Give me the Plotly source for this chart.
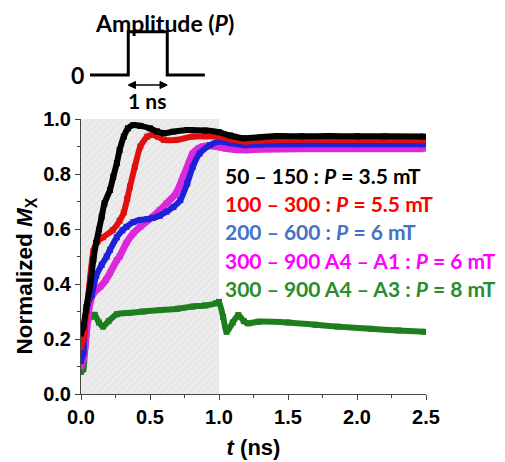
import plotly.graph_objects as go

# ---------------- data ----------------
black_t = [0.0, 0.017, 0.04, 0.065, 0.09, 0.11, 0.13, 0.15, 0.17, 0.21, 0.234, 0.26, 0.28, 0.31, 0.34,
           0.38, 0.43, 0.5, 0.55, 0.6, 0.67, 0.77, 0.9, 1.0, 1.08, 1.18, 1.3, 1.42, 1.6, 1.8, 2.0, 2.2, 2.48]
black_y = [0.22, 0.245, 0.317, 0.39, 0.49, 0.55, 0.597, 0.645, 0.693, 0.742, 0.79, 0.84, 0.887, 0.936, 0.966,
           0.978, 0.975, 0.966, 0.955, 0.948, 0.954, 0.96, 0.958, 0.952, 0.94, 0.93, 0.934, 0.938, 0.937, 0.938,
           0.937, 0.937, 0.936]

red_t = [0.0, 0.017, 0.04, 0.065, 0.09, 0.12, 0.16, 0.23, 0.28, 0.31, 0.335, 0.355, 0.39, 0.43, 0.48, 0.52,
         0.56, 0.6, 0.69, 0.81, 0.9, 1.0, 1.1, 1.19, 1.3, 1.5, 1.8, 2.1, 2.48]
red_y = [0.17, 0.2, 0.3, 0.42, 0.52, 0.555, 0.57, 0.596, 0.63, 0.66, 0.71, 0.754, 0.826, 0.9, 0.936, 0.942,
         0.935, 0.924, 0.924, 0.936, 0.937, 0.935, 0.925, 0.918, 0.922, 0.924, 0.924, 0.924, 0.923]

blue_t = [0.0, 0.017, 0.03, 0.05, 0.077, 0.11, 0.15, 0.186, 0.21, 0.26, 0.3, 0.33, 0.38, 0.43, 0.48, 0.52,
          0.57, 0.62, 0.67, 0.72, 0.77, 0.81, 0.86, 0.935, 1.0, 1.08, 1.19, 1.3, 1.6, 2.0, 2.48]
blue_y = [0.12, 0.15, 0.27, 0.33, 0.36, 0.43, 0.47, 0.5, 0.524, 0.57, 0.595, 0.608, 0.625, 0.633, 0.636, 0.64,
          0.648, 0.663, 0.68, 0.705, 0.766, 0.826, 0.875, 0.905, 0.918, 0.912, 0.905, 0.907, 0.908, 0.908, 0.908]

magenta_t = [0.0, 0.017, 0.03, 0.053, 0.07, 0.09, 0.14, 0.18, 0.21, 0.26, 0.28, 0.33, 0.38, 0.43, 0.52, 0.57,
             0.62, 0.69, 0.74, 0.78, 0.81, 0.85, 0.885, 0.93, 0.98, 1.05, 1.19, 1.3, 1.6, 2.0, 2.48]
magenta_y = [0.1, 0.13, 0.172, 0.29, 0.34, 0.366, 0.39, 0.415, 0.44, 0.487, 0.5, 0.55, 0.585, 0.608, 0.645,
             0.668, 0.693, 0.73, 0.79, 0.839, 0.875, 0.893, 0.9, 0.903, 0.9, 0.893, 0.887, 0.89, 0.892, 0.892,
             0.892]

green_t = [0.0, 0.017, 0.03, 0.04, 0.053, 0.07, 0.1, 0.13, 0.16, 0.2, 0.26, 0.35, 0.45, 0.57, 0.7, 0.81, 0.9,
           0.98, 1.0, 1.03, 1.055, 1.1, 1.14, 1.18, 1.21, 1.285, 1.5, 1.7, 1.86, 2.1, 2.3, 2.49]
green_y = [0.08, 0.09, 0.17, 0.22, 0.27, 0.28, 0.288, 0.26, 0.245, 0.265, 0.29, 0.295, 0.3, 0.305, 0.31, 0.318,
           0.322, 0.33, 0.335, 0.28, 0.226, 0.26, 0.287, 0.265, 0.257, 0.263, 0.26, 0.252, 0.245, 0.237, 0.231,
           0.226]

labels = [
    "50 – 150 : <i>P</i> = 3.5 mT",
    "100 – 300 : <i>P</i> = 5.5 mT",
    "200 – 600 : <i>P</i> = 6 mT",
    "300 – 900 A4 – A1 : <i>P</i> = 6 mT",
    "300 – 900 A4 – A3 : <i>P</i> = 8 mT",
]
label_y = [0.796, 0.693, 0.59, 0.487, 0.384]

pulse_start, pulse_end = 0.0, 1.0   # ns, shaded pulse window
x_ticks = [0.0, 0.5, 1.0, 1.5, 2.0, 2.5]
y_ticks = [0.0, 0.2, 0.4, 0.6, 0.8, 1.0]

# ---------------- styling ----------------
line_cols = ["#000000", "#e01010", "#2020d8", "#dc28dc", "#1e7d1e"]
text_cols = ["#000000", "#ff0000", "#4472c4", "#ff00ff", "#2a8c2a"]
series = [(black_t, black_y), (red_t, red_y), (blue_t, blue_y), (magenta_t, magenta_y), (green_t, green_y)]
widths = [6, 6, 6, 7, 6]

fig = go.Figure()

# shaded hatched pulse window
fig.add_trace(go.Bar(
    x=[(pulse_start + pulse_end) / 2], y=[1.0], width=[pulse_end - pulse_start],
    marker=dict(color="#ececec", line=dict(width=0),
                pattern=dict(shape="/", fgcolor="#d4d4d4", bgcolor="#ececec", size=5, solidity=0.2)),
    showlegend=False, hoverinfo="skip"))

for i in [4, 3, 2, 1, 0]:
    t, y = series[i]
    fig.add_trace(go.Scatter(
        x=t, y=y, mode="lines+markers",
        line=dict(color=line_cols[i], width=widths[i], shape="spline", smoothing=0.6),
        marker=dict(symbol="square", size=6, color=line_cols[i]),
        showlegend=False))

legend_font = dict(family="Lato", size=21, weight="bold")
inset_font = dict(family="Lato", size=23, weight="bold", color="black")
for lab, yy, c in zip(labels, label_y, text_cols):
    fig.add_annotation(x=1.03, y=yy, xref="x", yref="y", text=lab, showarrow=False,
                       xanchor="left", yanchor="middle", font=dict(color=c, **legend_font))

# pulse schematic inset (paper coordinates)
fig.add_shape(type="path", xref="paper", yref="paper",
              path="M 0.0261,1.16 L 0.137,1.16 L 0.137,1.3175 L 0.25,1.3175 L 0.25,1.16 L 0.359,1.16",
              line=dict(color="black", width=3))
fig.add_shape(type="line", xref="paper", yref="paper", x0=0.14, x1=0.247, y0=1.1236, y1=1.1236,
              line=dict(color="black", width=1.5))
fig.add_shape(type="path", xref="paper", yref="paper",
              path="M 0.137,1.1236 L 0.158,1.1366 L 0.158,1.1106 Z", fillcolor="black",
              line=dict(color="black", width=1))
fig.add_shape(type="path", xref="paper", yref="paper",
              path="M 0.25,1.1236 L 0.229,1.1366 L 0.229,1.1106 Z", fillcolor="black",
              line=dict(color="black", width=1))
fig.add_annotation(x=0.2406, y=1.349, xref="paper", yref="paper", text="Amplitude (<i>P</i>)",
                   xanchor="center", yanchor="middle", showarrow=False, font=inset_font)
fig.add_annotation(x=-0.0087, y=1.16, xref="paper", yref="paper", text="0",
                   xanchor="center", yanchor="middle", showarrow=False, font=inset_font)
fig.add_annotation(x=0.191, y=1.066, xref="paper", yref="paper", text="1 ns",
                   xanchor="center", yanchor="middle", showarrow=False,
                   font=dict(family="Lato", size=21, weight="bold", color="black"))

axis_font = dict(family="Liberation Sans", size=20, color="black", weight="bold")
xtitle_font = dict(family="Liberation Sans", size=22, color="black", weight="bold")
ytitle_font = dict(family="Liberation Sans", size=22.5, color="black", weight="bold")

# y axis title placed as a rotated annotation (slightly below the plot centre, as in the reference)
fig.add_annotation(x=-0.16, y=0.43, xref="paper", yref="paper", text="Normalized <i>M</i><sub>X</sub>",
                   textangle=-90, xanchor="center", yanchor="middle", showarrow=False, font=ytitle_font)

fig.update_xaxes(range=[0, 2.5], tickvals=x_ticks, ticktext=[f"{v:.1f}" for v in x_ticks],
                 showline=True, linecolor="#444", linewidth=1, ticks="outside", ticklen=5, tickcolor="#444",
                 minor=dict(dtick=0.25, ticks="outside", ticklen=3, tickcolor="#444"),
                 showgrid=False, zeroline=False, tickfont=axis_font, automargin=False,
                 title=dict(text="<i>t</i> (ns)", font=xtitle_font, standoff=12))
fig.update_yaxes(range=[0, 1.0], tickvals=y_ticks, ticktext=[f"{v:.1f}" for v in y_ticks],
                 showline=True, linecolor="#444", linewidth=1, ticks="outside", ticklen=5, tickcolor="#444",
                 minor=dict(dtick=0.1, ticks="outside", ticklen=3, tickcolor="#444"),
                 showgrid=False, zeroline=False, tickfont=axis_font, automargin=False)
# page body has an 8px default margin, so the figure is made 8px smaller and shifted accordingly
fig.update_layout(width=497, height=454, margin=dict(l=73, r=79, t=111, b=68),
                  plot_bgcolor="white", paper_bgcolor="white", showlegend=False, barmode="overlay")

fig.write_html("out.html")
